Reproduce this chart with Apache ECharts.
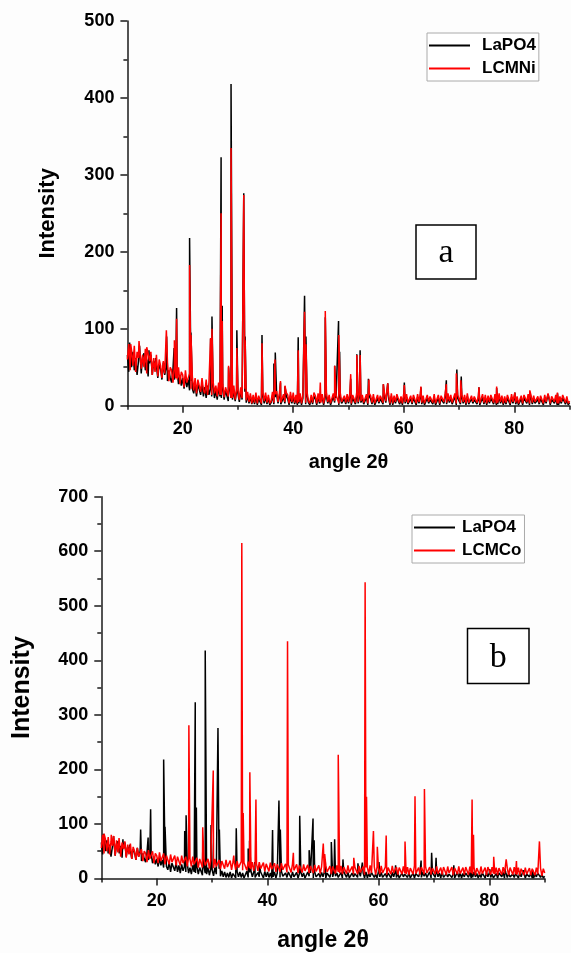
<!DOCTYPE html>
<html><head><meta charset="utf-8">
<script src="https://cdn.jsdelivr.net/npm/echarts@6/dist/echarts.min.js"></script>
<style>html,body{margin:0;padding:0;background:#fdfdfd}#c{width:571px;height:953px}</style>
</head><body><div id="c"></div>
<script>
// sampling grid of the background arrays (degrees 2θ)
const ANGLE_START = 10, ANGLE_STEP = 0.25;
const xTickLabels = [20, 40, 60, 80];
const xMinorTicks = [10, 30, 50, 70, 90];
const legendA = ['LaPO4', 'LCMNi'];
const legendB = ['LaPO4', 'LCMCo'];

// background (noise band), one value every 0.25°
const bgLaPO4 = [
66,44,74,50, 70,46,62,40, 58,76,42,64, 68,46,60,38, 55,66,40,58,
46,62,36,54, 48,34,56,40, 50,32,46,36, 30,48,34,42, 44,28,40,26,
36,22,38,24, 34,20,32,22, 16,30,12,28, 26,14,30,12, 24,10,26,14,
22,12,28,10, 20,8,24,12, 10,22,8,20, 18,6,22,10, 8,20,6,18,
16,5,20,8, 6,18,4,14, 3,12,2,10, 2,12,1,9, 10,1,13,3,
12,2,10,1, 4,13,2,11, 14,3,12,2, 1,11,3,12, 9,1,13,3,
12,2,10,1, 3,12,1,10, 11,2,13,4, 1,10,2,12, 9,1,12,3,
2,11,1,9, 12,3,10,1, 2,12,4,10, 10,1,12,3, 1,9,2,11,
3,12,1,10, 11,2,13,3, 12,4,10,2, 3,11,1,12, 9,2,11,1,
1,10,3,9, 11,2,12,4, 3,10,1,12, 1,9,3,11, 10,2,8,1,
12,3,11,2, 1,9,2,10, 8,1,11,3, 12,2,9,1, 1,10,3,8,
9,2,11,1, 2,10,1,9, 11,3,12,2, 12,4,10,2, 3,12,1,10,
9,2,11,3, 10,1,12,2, 1,9,3,8, 10,2,9,1, 3,11,2,10,
1,9,3,10, 10,2,11,1, 2,12,3,9, 1,8,2,10, 9,1,11,3,
10,2,8,1, 2,9,1,10, 8,3,11,1, 10,2,9,3, 1,8,2,9,
9,1,10,3, 2,10,1,8, 9,3,10,1, 1,8,3,10, 9,2,8,1,
4];
const bgLCMNi = [
60,80,46,72, 52,78,44,70, 62,82,48,66, 50,74,42,68, 58,70,40,62,
44,66,38,60, 52,36,58,42, 40,56,32,50, 46,30,52,36, 34,50,28,44,
40,24,46,30, 28,42,22,38, 20,36,16,34, 32,18,36,20, 16,34,14,30,
28,14,32,16, 26,12,30,14, 14,28,11,24, 24,12,28,10, 10,26,8,22,
20,8,24,10, 9,22,7,18, 5,16,3,14, 4,17,3,13, 15,3,18,6,
17,4,14,3, 6,18,4,15, 19,5,16,4, 3,15,5,17, 14,3,18,5,
17,4,14,3, 5,16,3,14, 15,4,18,6, 3,14,4,17, 13,3,16,5,
4,15,3,13, 17,5,14,3, 4,16,6,14, 14,3,17,5, 3,13,4,15,
5,17,3,14, 15,4,18,5, 17,6,14,4, 5,15,3,16, 13,4,15,3,
3,14,5,13, 15,4,17,6, 5,14,3,16, 3,13,5,15, 14,4,12,3,
16,5,15,4, 3,13,4,14, 12,3,15,5, 16,4,13,3, 3,14,5,12,
13,4,15,3, 4,14,3,13, 15,5,16,4, 16,6,14,4, 5,16,3,14,
13,4,15,5, 14,3,16,4, 3,13,5,12, 14,4,13,3, 5,15,4,14,
3,13,5,14, 14,4,15,3, 4,16,5,13, 3,12,4,14, 13,3,15,5,
14,4,12,3, 4,13,3,14, 12,5,15,3, 14,4,13,5, 3,12,4,13,
13,3,14,5, 4,14,3,12, 13,5,14,3, 3,12,5,14, 13,4,12,3,
6];
const bgLCMCo = [
56,80,46,72, 50,76,44,68, 60,78,42,70, 48,72,40,66, 54,68,38,62,
44,64,36,58, 50,34,56,40, 38,54,32,50, 46,30,52,36, 34,50,28,46,
42,28,48,32, 30,46,26,42, 40,26,44,30, 28,42,24,40, 38,24,42,28,
26,40,22,38, 36,22,40,26, 24,38,20,36, 34,20,38,24, 22,36,18,34,
32,19,36,22, 20,34,17,32, 30,18,34,21, 19,33,16,30, 29,16,32,20,
18,31,15,29, 28,15,31,19, 17,30,14,28, 27,14,30,18, 16,29,13,27,
26,13,29,17, 15,28,12,26, 25,12,28,16, 14,27,11,25, 24,11,27,15,
13,26,10,24, 23,11,26,14, 12,25,10,23, 22,10,25,13, 12,24,9,22,
22,10,24,12, 11,23,8,22, 21,9,24,12, 10,23,8,21, 22,9,24,11,
10,22,8,21, 21,8,23,11, 9,22,7,20, 21,8,24,10, 9,22,7,21,
20,8,23,10, 9,21,7,20, 22,8,23,10, 9,21,7,20, 20,8,22,10,
8,21,7,19, 21,8,23,9, 9,20,7,21, 20,8,22,10, 8,21,7,19,
21,8,22,9, 9,20,7,21, 20,7,22,10, 8,21,6,19, 21,8,22,9,
9,20,7,21, 19,7,22,10, 8,21,6,19, 20,7,22,9, 8,20,6,21,
19,7,21,9, 8,20,6,19, 20,7,21,9, 8,19,6,20, 19,7,21,8,
7,20,6,18, 19,6,20,8, 7,19,6,18, 18,6,20,8, 7,19,5,18,
10];

// diffraction peaks [2θ, intensity]
const peaksLaPO4 = [
[10.4,82],[12.2,78],[13.9,72],[15.1,62],[17.1,90],[18.45,75],[18.9,127],[21.25,218],[21.5,95],
[25.05,87],[25.3,116],[26.95,323],[27.15,130],[28.3,50],[28.75,418],[29.8,98],[31.05,276],[31.3,90],
[34.35,92],[36.5,55],[36.75,69],[37.7,30],[38.5,25],[40.9,89],[42.05,143],[42.3,90],[45.8,115],
[47.5,52],[48.2,110],[48.4,70],[50.4,35],[51.5,67],[52.1,72],[53.6,35],[56.3,28],[57.1,29],
[60.1,30],[63.1,24],[67.7,33],[69.6,47],[70.4,38],[73.6,24],[76.8,23],[80.1,17],[82.8,18],
[86.1,15],[87.8,16]];
const peaksLCMNi = [
[10.6,80],[12.1,84],[13.5,76],[17.05,98],[18.5,85],[18.9,113],[21.25,183],[21.5,92],[25.05,88],
[25.3,100],[26.95,250],[27.15,110],[28.3,52],[28.75,335],[29.8,75],[31.05,274],[31.3,85],[34.35,81],
[36.7,60],[37.7,32],[38.5,26],[40.9,72],[42.05,122],[42.3,80],[44.9,30],[45.8,123],[47.5,52],
[48.25,92],[50.4,41],[51.5,66],[52.1,66],[53.7,34],[56.3,28],[57.1,29],[60.1,27],[63.1,25],
[67.7,28],[69.5,42],[70.3,33],[73.6,24],[76.8,25],[80.1,17],[82.8,20],[86.1,16],[87.8,17]];
const peaksLCMCo = [
[10.5,82],[11.8,80],[13.2,74],[25.8,281],[28.3,94],[30.2,198],[33.9,42],[35.35,615],[35.6,120],
[36.8,195],[37.9,145],[43.6,435],[44.65,47],[50.05,64],[50.3,45],[52.75,227],[55.55,38],[57.6,543],
[57.85,150],[59.1,87],[59.8,58],[61.4,79],[64.8,68],[66.6,151],[68.3,164],[76.9,145],[77.15,80],
[80.8,40],[83.05,35],[84.9,32],[89.05,68]];

function buildPattern(bg, peaks) {
  const pts = bg.map((v, i) => [ANGLE_START + i * ANGLE_STEP, v]);
  peaks.forEach(p => pts.push([p[0], p[1]]));
  pts.sort((a, b) => a[0] - b[0]);
  return pts;
}
const dataLaPO4 = buildPattern(bgLaPO4, peaksLaPO4);
const dataLCMNi = buildPattern(bgLCMNi, peaksLCMNi);
const dataLCMCo = buildPattern(bgLCMCo, peaksLCMCo);

const FONT = "'Liberation Sans', Arial, sans-serif";
const SERIF = "'Liberation Serif', 'Times New Roman', serif";
const AX = '#1a1a1a';

function mainX(grid, nameSize, nameGap) {
  return {
    type: 'value', gridIndex: grid, min: 10, max: 90, position: 'bottom',
    name: 'angle 2\u03b8', nameLocation: 'middle', nameGap: nameGap,
    nameTextStyle: { fontFamily: FONT, fontWeight: 'bold', fontSize: nameSize, color: '#000' },
    axisLine: { show: true, lineStyle: { color: AX, width: 1.5 } },
    axisTick: { show: true, customValues: xTickLabels, length: 7, lineStyle: { color: AX, width: 1.5 } },
    axisLabel: { customValues: xTickLabels, margin: 14, fontFamily: FONT, fontWeight: 'bold', fontSize: 18, color: '#000' },
    splitLine: { show: false }
  };
}
function minorX(grid) {
  return {
    type: 'value', gridIndex: grid, min: 10, max: 90, position: 'bottom',
    axisLine: { show: false },
    axisTick: { show: true, customValues: xMinorTicks, length: 4, lineStyle: { color: AX, width: 1.5 } },
    axisLabel: { show: false }, splitLine: { show: false }
  };
}
function yAx(grid, max, nameSize, nameGap) {
  return {
    type: 'value', gridIndex: grid, min: 0, max: max, interval: 100,
    name: 'Intensity', nameLocation: 'middle', nameGap: nameGap, nameRotate: 90,
    nameTextStyle: { fontFamily: FONT, fontWeight: 'bold', fontSize: nameSize, color: '#000' },
    axisLine: { show: true, lineStyle: { color: AX, width: 1.5 } },
    axisTick: { show: true, length: 7, lineStyle: { color: AX, width: 1.5 } },
    minorTick: { show: true, splitNumber: 2, length: 4, lineStyle: { color: AX, width: 1.5 } },
    axisLabel: { margin: 13, fontFamily: FONT, fontWeight: 'bold', fontSize: 18, color: '#000' },
    splitLine: { show: false }
  };
}
function legend(names, left, top, textGap) {
  return {
    data: names, left: left, top: top, orient: 'vertical',
    icon: 'rect', itemWidth: 41, itemHeight: 2, itemGap: 6, padding: [4, 3, 4, 2],
    borderColor: '#aaa', borderWidth: 1, backgroundColor: '#fff',
    textStyle: { fontFamily: FONT, fontWeight: 'bold', fontSize: 17, color: '#000', padding: [0, 0, 0, textGap] }
  };
}
function line(name, data, xi, yi, color) {
  return {
    type: 'line', name: name, data: data, xAxisIndex: xi, yAxisIndex: yi,
    symbol: 'none', lineStyle: { color: color, width: 1.5 }, itemStyle: { color: color },
    z: 2
  };
}

const chart = echarts.init(document.getElementById('c'), null, { renderer: 'canvas' });
chart.setOption({
  animation: false,
  backgroundColor: '#fdfdfd',
  grid: [
    { left: 127.4, top: 21, width: 442.2, height: 384.7 },
    { left: 101.3, top: 496.7, width: 443.4, height: 382.3 }
  ],
  xAxis: [mainX(0, 20, 47), minorX(0), mainX(1, 23, 50.5), minorX(1)],
  yAxis: [yAx(0, 500, 22, 68), yAx(1, 700, 25, 66.8)],
  legend: [legend(legendA, 427, 33, 7), legend(legendB, 412, 515, 2)],
  series: [
    line('LaPO4', dataLaPO4, 0, 0, '#000'),
    line('LCMNi', dataLCMNi, 0, 0, '#ff0000'),
    line('LaPO4', dataLaPO4, 2, 1, '#000'),
    line('LCMCo', dataLCMCo, 2, 1, '#ff0000')
  ],
  graphic: [
    { type: 'rect', shape: { x: 416, y: 225, width: 60, height: 54 }, style: { fill: '#fff', stroke: '#000', lineWidth: 1.5 }, z: 10 },
    { type: 'text', x: 446, y: 253, style: { text: 'a', font: '34px ' + SERIF, fill: '#000', textAlign: 'center', textVerticalAlign: 'middle' }, z: 11 },
    { type: 'rect', shape: { x: 467.5, y: 628.5, width: 61.5, height: 55 }, style: { fill: '#fff', stroke: '#000', lineWidth: 1.5 }, z: 10 },
    { type: 'text', x: 498.3, y: 657.7, style: { text: 'b', font: '34px ' + SERIF, fill: '#000', textAlign: 'center', textVerticalAlign: 'middle' }, z: 11 }
  ]
});
</script>
</body></html>
